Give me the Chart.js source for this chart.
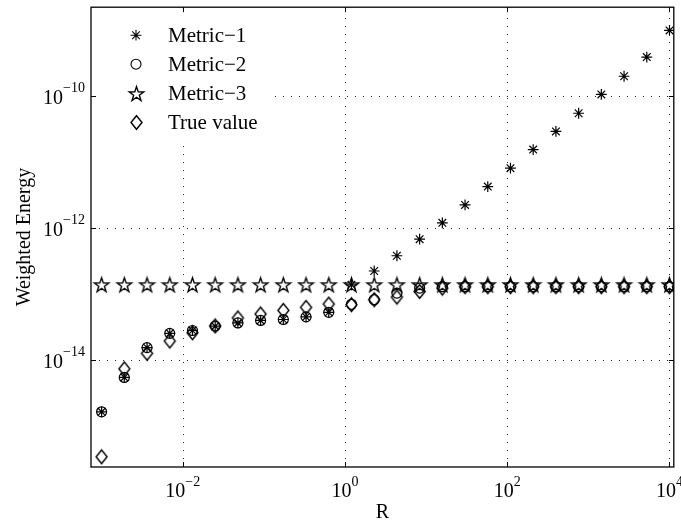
<!DOCTYPE html>
<html><head><meta charset="utf-8">
<script src="https://cdn.jsdelivr.net/npm/chart.js@4/dist/chart.umd.min.js"></script>
<style>html,body{margin:0;padding:0;background:#fff;}#wrap{width:681px;height:524px;}</style>
</head><body><div id="wrap"><canvas id="c" width="681" height="524"></canvas></div>
<script>
// ---- data ----
const R = [0.001, 0.001905, 0.003631, 0.006918, 0.01318, 0.02512, 0.04786, 0.09120, 0.1738, 0.3311, 0.6310, 1.202, 2.291, 4.365, 8.318, 15.85, 30.20, 57.54, 109.6, 208.9, 398.1, 758.6, 1445, 2754, 5248, 10000];
const metric1 = [1.65e-15, 5.47e-15, 1.55e-14, 2.55e-14, 2.82e-14, 3.28e-14, 3.67e-14, 4.0e-14, 4.14e-14, 4.53e-14, 5.32e-14, 1.39e-13, 2.25e-13, 3.83e-13, 6.84e-13, 1.21e-12, 2.26e-12, 4.29e-12, 8.15e-12, 1.56e-11, 2.94e-11, 5.55e-11, 1.07e-10, 2.02e-10, 3.94e-10, 1.0e-9];
const metric2 = [1.65e-15, 5.47e-15, 1.55e-14, 2.55e-14, 2.82e-14, 3.28e-14, 3.67e-14, 4.0e-14, 4.14e-14, 4.53e-14, 5.32e-14, 7.03e-14, 8.26e-14, 1.04e-13, 1.24e-13, 1.3e-13, 1.3e-13, 1.3e-13, 1.3e-13, 1.3e-13, 1.3e-13, 1.3e-13, 1.3e-13, 1.3e-13, 1.3e-13, 1.3e-13];
const metric3 = [1.4e-13, 1.4e-13, 1.4e-13, 1.4e-13, 1.4e-13, 1.4e-13, 1.4e-13, 1.4e-13, 1.4e-13, 1.4e-13, 1.4e-13, 1.4e-13, 1.4e-13, 1.4e-13, 1.4e-13, 1.4e-13, 1.4e-13, 1.4e-13, 1.4e-13, 1.4e-13, 1.4e-13, 1.4e-13, 1.4e-13, 1.4e-13, 1.4e-13, 1.4e-13];
const trueValue = [3.43e-16, 7.39e-15, 1.27e-14, 1.95e-14, 2.6e-14, 3.3e-14, 4.37e-14, 5.02e-14, 5.7e-14, 6.33e-14, 7.1e-14, 6.95e-14, 8.26e-14, 9.04e-14, 1.1e-13, 1.24e-13, 1.3e-13, 1.3e-13, 1.3e-13, 1.3e-13, 1.3e-13, 1.3e-13, 1.3e-13, 1.3e-13, 1.3e-13, 1.3e-13];
const seriesNames = ['Metric\u22121', 'Metric\u22122', 'Metric\u22123', 'True value'];
const xTickValues = [1e-2, 1e0, 1e2, 1e4];
const xTickExponents = ['\u22122', '0', '2', '4'];
const yTickValues = [1e-10, 1e-12, 1e-14];
const yTickExponents = ['\u221210', '\u221212', '\u221214'];
const xLabel = 'R';
const yLabel = 'Weighted Energy';

// ---- marker images for shapes Chart.js lacks ----
function makeMarker(w, h, draw) {
  const c = document.createElement('canvas');
  c.width = w; c.height = h;
  const g = c.getContext('2d');
  g.strokeStyle = '#000'; g.lineWidth = 1.4; g.lineJoin = 'miter';
  draw(g, w / 2, h / 2);
  return c;
}
const mkStar = makeMarker(19, 19, (g, cx, cy) => {
  const ro = 7.6, ri = 3.0;
  g.beginPath();
  for (let k = 0; k < 10; k++) {
    const a = -Math.PI / 2 + k * Math.PI / 5;
    const r = k % 2 === 0 ? ro : ri;
    const px = cx + r * Math.cos(a), py = cy + r * Math.sin(a) + 0.8;
    if (k === 0) g.moveTo(px, py); else g.lineTo(px, py);
  }
  g.closePath(); g.stroke();
});
const mkDiamond = makeMarker(15, 17, (g, cx, cy) => {
  const hw = 5.5, hh = 6.8;
  g.beginPath();
  g.moveTo(cx, cy - hh); g.lineTo(cx + hw, cy); g.lineTo(cx, cy + hh); g.lineTo(cx - hw, cy);
  g.closePath(); g.stroke();
});
const markerStyles = ['star', 'circle', mkStar, mkDiamond];
const markerRadius = [5.4, 5, 6, 6];
const series = [metric1, metric2, metric3, trueValue];

const SERIF = '"Liberation Serif", "Times New Roman", serif';

function drawLegendMarker(ctx, i, x, y) {
  const st = markerStyles[i];
  ctx.save();
  ctx.strokeStyle = '#000'; ctx.lineWidth = 1.1;
  if (st === 'star') {
    const r = markerRadius[i], d = r * Math.SQRT1_2;
    ctx.beginPath();
    ctx.moveTo(x, y - r); ctx.lineTo(x, y + r);
    ctx.moveTo(x - r, y); ctx.lineTo(x + r, y);
    ctx.moveTo(x - d, y - d); ctx.lineTo(x + d, y + d);
    ctx.moveTo(x - d, y + d); ctx.lineTo(x + d, y - d);
    ctx.stroke();
  } else if (st === 'circle') {
    ctx.beginPath(); ctx.arc(x, y, markerRadius[i], 0, Math.PI * 2); ctx.stroke();
  } else {
    ctx.drawImage(st, Math.round(x - st.width / 2), Math.round(y - st.height / 2));
  }
  ctx.restore();
}

function powLabel(ctx, x, y, exp, align) {
  ctx.font = '20px ' + SERIF;
  const w1 = ctx.measureText('10').width;
  ctx.font = '14px ' + SERIF;
  const w2 = ctx.measureText(exp).width;
  const total = w1 + w2;
  const x0 = align === 'center' ? x - total / 2 : x - total;
  ctx.textAlign = 'left';
  ctx.textBaseline = 'alphabetic';
  ctx.fillStyle = '#000';
  ctx.font = '20px ' + SERIF;
  ctx.fillText('10', x0, y);
  ctx.font = '14px ' + SERIF;
  ctx.fillText(exp, x0 + w1, y - 11.3);
}

const matlabPlugin = {
  id: 'matlabAxes',
  beforeDatasetsDraw(chart) {
    const {ctx, chartArea: a, scales} = chart;
    ctx.save();
    ctx.strokeStyle = '#222';
    ctx.lineWidth = 1;
    ctx.setLineDash([1, 7]);
    xTickValues.forEach(v => {
      const px = Math.round(scales.x.getPixelForValue(v)) + 0.5;
      ctx.beginPath(); ctx.moveTo(px, a.bottom); ctx.lineTo(px, a.top); ctx.stroke();
    });
    yTickValues.forEach(v => {
      const py = Math.round(scales.y.getPixelForValue(v)) + 0.5;
      ctx.beginPath(); ctx.moveTo(a.left, py); ctx.lineTo(a.right, py); ctx.stroke();
    });
    ctx.restore();
  },
  afterDatasetsDraw(chart) {
    const {ctx, chartArea: a, scales, data} = chart;
    ctx.save();
    // legend background
    ctx.fillStyle = '#fff';
    ctx.fillRect(a.left + 1, a.top + 1, 183, 137);
    // legend entries
    data.datasets.forEach((ds, i) => {
      const cy = a.top + 28 + i * 29;
      drawLegendMarker(ctx, i, a.left + 45, cy);
      ctx.fillStyle = '#000';
      ctx.font = '21px ' + SERIF;
      ctx.textAlign = 'left';
      ctx.textBaseline = 'alphabetic';
      ctx.fillText(ds.label, a.left + 77, cy + 6.5);
    });
    // frame
    ctx.strokeStyle = '#000';
    ctx.lineWidth = 1.3;
    ctx.setLineDash([]);
    ctx.strokeRect(a.left, a.top, a.right - a.left, a.bottom - a.top);
    // inward ticks and labels
    ctx.lineWidth = 1;
    const tl = 5;
    xTickValues.forEach((v, i) => {
      const px = Math.round(scales.x.getPixelForValue(v)) + 0.5;
      ctx.beginPath();
      ctx.moveTo(px, a.bottom); ctx.lineTo(px, a.bottom - tl);
      ctx.moveTo(px, a.top); ctx.lineTo(px, a.top + tl);
      ctx.stroke();
      powLabel(ctx, scales.x.getPixelForValue(v), a.bottom + 30, xTickExponents[i], 'center');
    });
    yTickValues.forEach((v, i) => {
      const py = Math.round(scales.y.getPixelForValue(v)) + 0.5;
      ctx.beginPath();
      ctx.moveTo(a.left, py); ctx.lineTo(a.left + tl, py);
      ctx.moveTo(a.right, py); ctx.lineTo(a.right - tl, py);
      ctx.stroke();
      powLabel(ctx, a.left - 6, scales.y.getPixelForValue(v) + 7.4, yTickExponents[i], 'right');
    });
    ctx.restore();
  }
};

new Chart(document.getElementById('c'), {
  type: 'scatter',
  data: {
    datasets: seriesNames.map((name, i) => ({
      label: name,
      data: R.map((x, j) => ({x: x, y: series[i][j]})),
      pointStyle: markerStyles[i],
      pointRadius: markerRadius[i],
      borderWidth: 1.2,
      borderColor: '#000',
      backgroundColor: 'rgba(0,0,0,0)',
      showLine: false
    }))
  },
  options: {
    responsive: false,
    animation: false,
    devicePixelRatio: 1,
    layout: {padding: {left: 0, top: 3, right: 5, bottom: 0}},
    plugins: {legend: {display: false}, tooltip: {enabled: false}},
    scales: {
      x: {
        type: 'logarithmic', min: 7.4e-4, max: 1.13e4,
        grid: {display: false}, border: {display: false},
        ticks: {display: false},
        title: {display: true, text: xLabel, color: '#000', font: {family: SERIF, size: 20, lineHeight: 1}, padding: {top: 0, bottom: 1}},
        afterFit: s => { s.height = 57; }
      },
      y: {
        type: 'logarithmic', min: 2.4e-16, max: 2.25e-9,
        grid: {display: false}, border: {display: false},
        ticks: {display: false},
        title: {display: true, text: yLabel, color: '#000', font: {family: SERIF, size: 20, lineHeight: 1}, padding: {top: 15, bottom: 0}},
        afterFit: s => { s.width = 91; }
      }
    }
  },
  plugins: [matlabPlugin]
});
</script></body></html>
